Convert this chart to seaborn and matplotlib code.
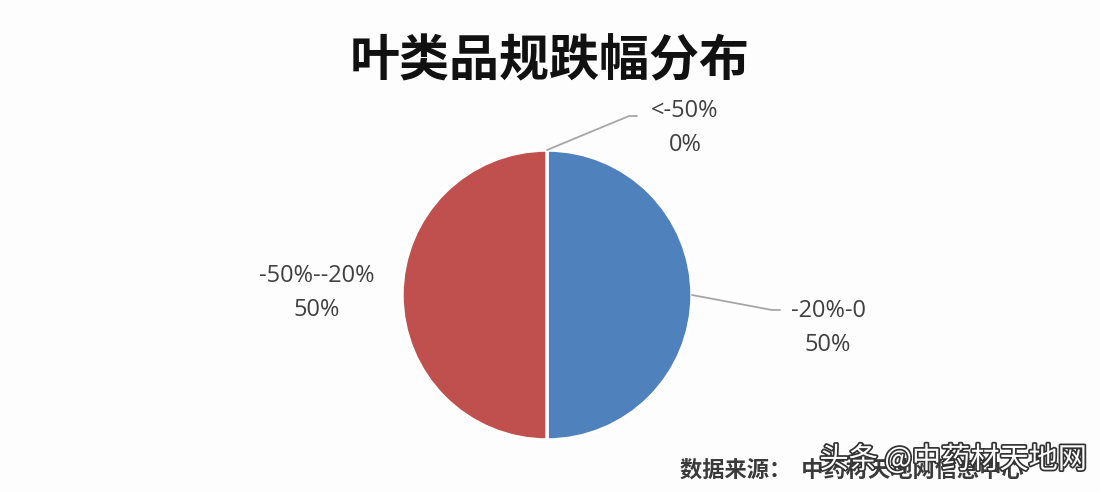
import matplotlib
matplotlib.use("Agg")
import numpy as np
import seaborn as sns
import matplotlib.pyplot as plt
import matplotlib.patheffects as pe

# Datos del gráfico
categorias = ["<-50%", "-20%-0", "-50%--20%"]
porcentajes = [0, 50, 50]
colores = ["#9BBB59", "#4F81BD", "#C0504D"]
titulo = "叶类品规跌幅分布"
fuente = "数据来源：  中药材天地网信息中心"
marca = "头条 @中药材天地网"

sns.set_style("white")
plt.rcParams["font.family"] = ["Noto Sans CJK SC", "DejaVu Sans"]

fig = plt.figure(figsize=(11, 4.92), dpi=100)
fig.patch.set_facecolor("#fdfdfd")
ax = fig.add_axes([0, 0, 1, 1])
ax.set_facecolor("#fdfdfd")

# Pastel (en coordenadas de píxel de la figura)
cx, cy, r = 547, 197, 145
wedges, _ = ax.pie(
    porcentajes,
    colors=colores,
    startangle=90,
    counterclock=False,
    center=(cx, cy),
    radius=r,
    frame=True,
    wedgeprops={"edgecolor": "white", "linewidth": 2.5},
)
ax.set_xlim(0, 1100)
ax.set_ylim(0, 492)
ax.set_aspect("equal")
ax.axis("off")

# Etiquetas: desplazamiento del texto respecto al borde de cada porción
offsets = [(138, 22, True), (136, -33, True), (-85, 2, False)]
for w, cat, pct, (dx, dy, linea) in zip(wedges, categorias, porcentajes, offsets):
    ang = np.deg2rad((w.theta1 + w.theta2) / 2)
    px, py = cx + r * np.cos(ang), cy + r * np.sin(ang)
    tx, ty = px + dx, py + dy
    ax.text(tx, ty, f"{cat}\n{pct}%", ha="center", va="center",
            fontsize=17, color="#404040", family=["Open Sans", "DejaVu Sans"],
            linespacing=1.6)
    if linea:
        ex = tx - 48
        ey = ty + (12 if dy > 0 else 18)
        ax.plot([px, ex - 8, ex], [py, ey, ey], color="#a6a6a6", lw=1.3)

fig.text(0.5, 0.875, titulo, ha="center", va="center", fontsize=36,
         fontweight="bold", color="#111111")

fig.text(0.618, 0.045, fuente, ha="left", va="center", fontsize=16,
         fontweight="bold", color="#3a3a3a")
fig.text(0.745, 0.065, marca, ha="left", va="center", fontsize=21,
         color="white",
         path_effects=[pe.Stroke(linewidth=2.5, foreground="#333333"), pe.Normal()])

fig.savefig("out.png", dpi=100, facecolor=fig.get_facecolor())
